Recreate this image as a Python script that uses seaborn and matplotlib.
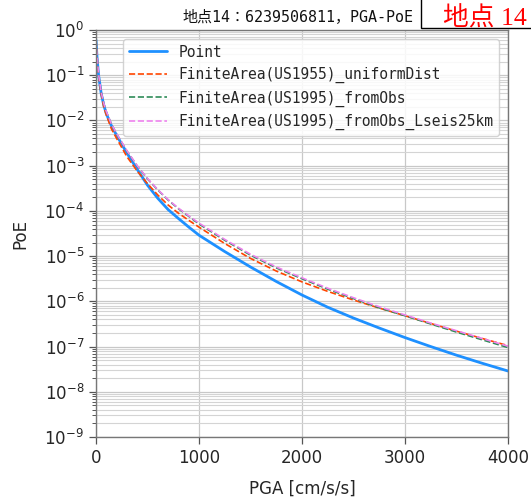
import matplotlib
matplotlib.use("Agg")
import matplotlib.pyplot as plt
import matplotlib.ticker as mticker
from matplotlib.patches import Rectangle
import numpy as np
import pandas as pd
import seaborn as sns

# PGA grid [cm/s/s]
pga = [0, 10, 25, 50, 75, 100, 150, 200, 300, 400, 500, 600, 700, 800, 900,
       1000, 1250, 1500, 1750, 2000, 2250, 2500, 2750, 3000, 3250, 3500, 3750, 4000]

# Probability of exceedance for each source model
poe_point = [6.0e-1, 2.5e-1, 1.0e-1, 4.0e-2, 2.19e-2, 1.41e-2, 7.6e-3, 4.7e-3,
             1.9e-3, 8.3e-4, 3.7e-4, 1.9e-4, 1.07e-4, 6.8e-5, 4.4e-5,
             2.9e-5, 1.26e-5, 5.75e-6, 2.75e-6, 1.38e-6, 7.4e-7, 4.27e-7,
             2.57e-7, 1.58e-7, 1.0e-7, 6.45e-8, 4.27e-8, 2.88e-8]
poe_us1955_uniform = [6.0e-1, 2.4e-1, 9.5e-2, 3.8e-2, 2.0e-2, 1.32e-2, 6.5e-3, 4.0e-3,
                      1.58e-3, 7.6e-4, 4.0e-4, 2.24e-4, 1.35e-4, 8.9e-5, 6.2e-5,
                      4.37e-5, 1.9e-5, 8.9e-6, 4.68e-6, 2.69e-6, 1.66e-6, 1.07e-6,
                      7.1e-7, 4.8e-7, 3.24e-7, 2.19e-7, 1.51e-7, 1.05e-7]
poe_us1995_obs = [6.0e-1, 2.62e-1, 1.04e-1, 4.24e-2, 2.38e-2, 1.56e-2, 8.2e-3, 5.0e-3,
                  2.1e-3, 9.8e-4, 5.1e-4, 2.9e-4, 1.74e-4, 1.12e-4, 7.6e-5,
                  5.13e-5, 2.24e-5, 1.05e-5, 5.5e-6, 3.16e-6, 1.86e-6, 1.15e-6,
                  7.2e-7, 4.8e-7, 3.16e-7, 2.09e-7, 1.41e-7, 9.5e-8]
poe_us1995_obs_l25 = [6.0e-1, 2.63e-1, 1.05e-1, 4.27e-2, 2.4e-2, 1.58e-2, 8.3e-3, 5.13e-3,
                      2.14e-3, 1.0e-3, 5.2e-4, 2.95e-4, 1.78e-4, 1.15e-4, 7.8e-5,
                      5.37e-5, 2.34e-5, 1.1e-5, 5.75e-6, 3.31e-6, 1.95e-6, 1.2e-6,
                      7.6e-7, 5.0e-7, 3.31e-7, 2.24e-7, 1.51e-7, 1.02e-7]

labels = ["Point",
          "FiniteArea(US1955)_uniformDist",
          "FiniteArea(US1995)_fromObs",
          "FiniteArea(US1995)_fromObs_Lseis25km"]
series = [poe_point, poe_us1955_uniform, poe_us1995_obs, poe_us1995_obs_l25]
colors = ["#1E90FF", "#FF4500", "#2E8B57", "#EE82EE"]
styles = ["-", "--", "--", "--"]
widths = [2.0, 1.2, 1.2, 1.2]

title = "地点14：6239506811，PGA-PoE"
site_tag = "地点 14"

sns.set_theme(style="whitegrid")
plt.rcParams["font.family"] = ["DejaVu Sans", "Noto Sans CJK JP"]

fig = plt.figure(figsize=(5.31, 5.04), dpi=100)
ax = fig.add_axes([0.1808, 0.1329, 0.7759, 0.8076])

for lab, vals, col, ls, lw in zip(labels, series, colors, styles, widths):
    df = pd.DataFrame({"pga": pga, "poe": vals})
    sns.lineplot(data=df, x="pga", y="poe", ax=ax, color=col, linestyle=ls,
                 linewidth=lw, label=lab)

ax.set_yscale("log")
ax.set_xlim(0, 4000)
ax.set_ylim(1e-9, 1e0)
ax.yaxis.set_major_locator(mticker.LogLocator(base=10, numticks=20))
ax.yaxis.set_minor_locator(mticker.LogLocator(base=10, subs=np.arange(2, 10), numticks=20))
ax.yaxis.set_minor_formatter(mticker.NullFormatter())
ax.xaxis.set_major_locator(mticker.MultipleLocator(1000))

ax.grid(True, which="major", color="#c8c8c8", linewidth=0.9)
ax.grid(True, which="minor", axis="y", color="#d4d4d4", linewidth=0.8)
ax.set_axisbelow(True)

ax.tick_params(axis="both", which="major", labelsize=12, length=5, width=0.9,
               color="#555555", direction="out", left=True, bottom=True)
ax.tick_params(axis="y", which="minor", length=3, width=0.7, color="#555555", left=True)
for sp in ax.spines.values():
    sp.set_color("#777777")
    sp.set_linewidth(1.0)

ax.set_xlabel("PGA [cm/s/s]", fontsize=12, labelpad=9)
ax.set_ylabel("PoE", fontsize=12, labelpad=11)

leg = ax.legend(loc="upper right", prop={"family": ["DejaVu Sans Mono", "Noto Sans CJK JP"],
                                         "size": 10.5},
                handlelength=2.6, framealpha=0.85, edgecolor="#cccccc",
                borderaxespad=0.6)

fig.text(0.562, 0.958, title, ha="center", va="baseline", fontsize=10.8,
         family=["DejaVu Sans Mono", "Noto Sans CJK JP"], color="#111111")

# labelled box in the top-right corner
box = Rectangle((421 / 531, 1 - 28 / 504), 0.3, 0.2, transform=fig.transFigure,
                facecolor="white", edgecolor="black", linewidth=1.0, zorder=5)
fig.add_artist(box)
fig.text(443 / 531, 1 - 26 / 504, site_tag, ha="left", va="baseline", fontsize=18.5,
         color="red", family=["Liberation Serif", "Noto Sans CJK JP"], zorder=6)

fig.savefig("out.png", dpi=100)
